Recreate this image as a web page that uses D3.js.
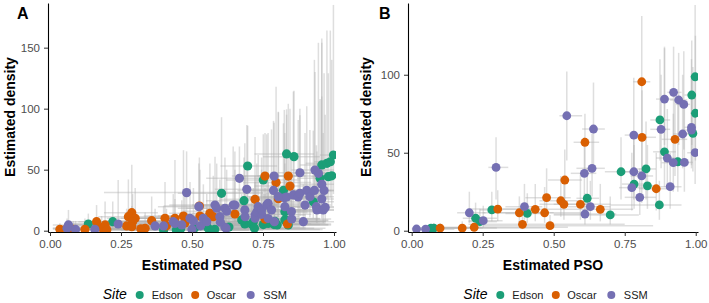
<!DOCTYPE html>
<html>
<head>
<meta charset="utf-8">
<script src="https://cdn.jsdelivr.net/npm/d3@7"></script>
<style>
  body { margin: 0; background: #fff; }
  svg { font-family: "Liberation Sans", Arial, sans-serif; }
</style>
</head>
<body>
<svg id="chart" width="709" height="303"></svg>
<script>
// each row: [pso, density, psoLow, psoHigh, densityLow, densityHigh]
const edsonA = [
  [0.135, 5.5, 0.05, 0.42, 1, 14], [0.221, 7.4, 0.10, 0.50, 2, 24], [0.400, 0.5, 0.20, 0.70, 0, 4],
  [0.445, 0.5, 0.25, 0.75, 0, 5], [0.510, 2.5, 0.30, 0.80, 0, 10], [0.557, 2.0, 0.30, 0.85, 0, 8],
  [0.550, 4.0, 0.35, 0.80, 0, 12], [0.604, 30.6, 0.45, 0.75, 12, 93], [0.683, 24.6, 0.55, 0.85, 10, 60],
  [0.696, 53.0, 0.60, 0.80, 25, 86], [0.686, 5.5, 0.50, 0.90, 1, 20], [0.710, 5.5, 0.50, 0.92, 1, 25],
  [0.675, 8.8, 0.45, 0.90, 2, 30], [0.716, 7.4, 0.50, 0.95, 2, 35], [0.720, 2.0, 0.50, 0.93, 0, 12],
  [0.751, 41.6, 0.62, 0.88, 18, 79], [0.751, 5.0, 0.55, 0.95, 1, 22], [0.768, 6.0, 0.55, 0.97, 1, 28],
  [0.792, 7.6, 0.60, 0.97, 2, 30], [0.789, 5.0, 0.60, 0.98, 1, 26], [0.800, 4.7, 0.60, 0.98, 1, 24],
  [0.827, 8.8, 0.65, 0.98, 2, 35], [0.827, 15.6, 0.68, 0.97, 6, 55], [0.833, 62.9, 0.72, 0.93, 30, 99.5],
  [0.859, 60.7, 0.75, 0.95, 28, 114.7], [0.822, 33.0, 0.68, 0.95, 14, 88], [0.833, 8.2, 0.65, 0.98, 2, 32],
  [0.839, 4.7, 0.65, 0.99, 1, 20], [0.927, 23.7, 0.82, 1.00, 10, 82], [0.951, 43.0, 0.87, 1.00, 18, 108],
  [0.957, 53.9, 0.88, 1.00, 25, 154], [0.975, 55.2, 0.90, 1.00, 26, 164], [0.998, 62.0, 0.95, 1.00, 30, 185],
  [0.987, 56.5, 0.93, 1.00, 27, 164], [0.980, 44.3, 0.92, 1.00, 20, 129], [0.992, 45.0, 0.93, 1.00, 20, 140],
  [0.630, 3.0, 0.40, 0.88, 0, 14], [0.460, 1.5, 0.15, 0.90, 0, 6], [0.580, 1.0, 0.25, 0.96, 0, 6]
];
const oscarA = [
  [0.035, 1.1, 0.01, 0.25, 0, 6], [0.060, 2.0, 0.01, 0.30, 0, 8], [0.082, 1.1, 0.02, 0.35, 0, 8],
  [0.123, 1.1, 0.03, 0.40, 0, 10], [0.164, 7.4, 0.06, 0.40, 2, 21], [0.182, 2.5, 0.05, 0.45, 0, 12],
  [0.194, 4.7, 0.08, 0.45, 1, 24], [0.270, 3.9, 0.10, 0.55, 1, 18], [0.288, 14.8, 0.19, 0.38, 5, 54],
  [0.276, 11.5, 0.17, 0.40, 4, 42], [0.300, 10.2, 0.20, 0.45, 3, 35], [0.291, 7.4, 0.15, 0.50, 2, 30],
  [0.288, 3.3, 0.12, 0.55, 1, 20], [0.335, 2.0, 0.12, 0.60, 0, 15], [0.358, 8.2, 0.20, 0.55, 2, 28],
  [0.405, 10.2, 0.25, 0.60, 3, 40], [0.410, 4.0, 0.20, 0.70, 0, 18], [0.440, 10.2, 0.30, 0.62, 3, 58],
  [0.470, 12.0, 0.33, 0.65, 4, 66], [0.475, 6.3, 0.30, 0.70, 1, 30], [0.528, 12.0, 0.38, 0.70, 4, 50],
  [0.526, 20.2, 0.40, 0.68, 8, 60], [0.563, 14.2, 0.42, 0.72, 5, 55], [0.575, 11.5, 0.42, 0.75, 4, 45],
  [0.651, 13.7, 0.50, 0.82, 5, 50], [0.722, 25.7, 0.60, 0.86, 10, 76.8], [0.757, 44.8, 0.64, 0.88, 20, 80],
  [0.757, 9.5, 0.55, 0.95, 3, 35], [0.796, 39.4, 0.68, 0.92, 17, 118], [0.804, 26.2, 0.68, 0.93, 11, 97.5],
  [0.839, 44.8, 0.73, 0.95, 20, 104], [0.845, 36.6, 0.72, 0.96, 15, 100], [0.836, 5.5, 0.62, 0.99, 1, 22],
  [0.200, 0.8, 0.03, 0.70, 0, 4], [0.320, 1.5, 0.05, 0.80, 0, 6]
];
const ssmA = [
  [0.065, 4.7, 0.01, 0.30, 1, 17], [0.060, 2.0, 0.01, 0.30, 0, 10], [0.090, 1.0, 0.02, 0.35, 0, 8],
  [0.158, 1.1, 0.04, 0.45, 0, 10], [0.240, 5.5, 0.08, 0.50, 1, 41.6], [0.370, 3.9, 0.15, 0.65, 1, 18],
  [0.400, 3.9, 0.18, 0.70, 1, 20], [0.434, 7.4, 0.22, 0.70, 2, 30], [0.464, 4.7, 0.22, 0.75, 1, 25],
  [0.440, 6.0, 0.20, 0.72, 1, 26], [0.481, 31.2, 0.19, 0.75, 12, 65], [0.493, 10.2, 0.30, 0.72, 3, 40],
  [0.505, 8.0, 0.30, 0.75, 2, 35], [0.530, 4.0, 0.30, 0.80, 0, 16], [0.524, 19.7, 0.38, 0.70, 7, 55],
  [0.540, 10.2, 0.35, 0.75, 3, 38], [0.552, 7.4, 0.35, 0.80, 2, 30], [0.581, 21.0, 0.42, 0.74, 8, 60.6],
  [0.587, 18.4, 0.45, 0.75, 7, 55], [0.598, 11.5, 0.42, 0.80, 4, 42], [0.600, 7.0, 0.40, 0.85, 2, 28],
  [0.616, 2.8, 0.38, 0.90, 0, 15], [0.616, 18.4, 0.48, 0.78, 7, 60], [0.622, 16.0, 0.47, 0.80, 6, 50],
  [0.645, 21.0, 0.50, 0.80, 8, 69], [0.651, 21.0, 0.52, 0.80, 8, 65], [0.667, 42.9, 0.55, 0.80, 18, 69],
  [0.686, 17.0, 0.55, 0.85, 6, 71.6], [0.693, 33.9, 0.58, 0.82, 14, 86.6], [0.687, 11.5, 0.52, 0.88, 4, 45],
  [0.722, 10.2, 0.55, 0.90, 3, 40], [0.722, 12.8, 0.56, 0.90, 4, 45], [0.728, 15.4, 0.58, 0.90, 5, 55],
  [0.733, 19.7, 0.60, 0.88, 7, 62], [0.745, 13.4, 0.58, 0.92, 5, 50], [0.745, 17.0, 0.60, 0.90, 6, 60],
  [0.763, 21.0, 0.62, 0.90, 8, 79], [0.768, 22.5, 0.63, 0.90, 9, 80], [0.768, 10.0, 0.60, 0.95, 3, 40],
  [0.780, 17.0, 0.63, 0.93, 6, 83], [0.790, 7.4, 0.60, 0.97, 2, 35], [0.789, 44.8, 0.68, 0.90, 20, 88.5],
  [0.787, 33.0, 0.66, 0.92, 14, 90], [0.804, 27.9, 0.68, 0.94, 11, 97], [0.825, 27.0, 0.70, 0.95, 11, 99],
  [0.827, 19.7, 0.68, 0.96, 7, 80], [0.833, 27.6, 0.70, 0.95, 11, 95], [0.851, 9.6, 0.68, 0.99, 3, 40],
  [0.850, 15.7, 0.70, 0.98, 5, 60], [0.857, 29.3, 0.74, 0.97, 12, 114], [0.874, 27.6, 0.75, 0.98, 11, 90.7],
  [0.880, 47.5, 0.78, 0.97, 22, 100], [0.880, 30.6, 0.76, 0.98, 12, 94.6], [0.892, 7.4, 0.72, 1.00, 2, 38],
  [0.898, 21.0, 0.78, 0.99, 8, 80], [0.904, 33.0, 0.80, 0.99, 14, 102], [0.915, 27.9, 0.80, 1.00, 11, 82.5],
  [0.931, 33.0, 0.83, 1.00, 14, 140], [0.933, 49.7, 0.85, 1.00, 22, 130], [0.938, 19.7, 0.80, 1.00, 7, 70],
  [0.940, 17.0, 0.80, 1.00, 6, 65], [0.945, 47.0, 0.86, 1.00, 21, 154], [0.957, 38.0, 0.88, 1.00, 17, 157.5],
  [0.957, 26.0, 0.86, 1.00, 10, 110], [0.962, 17.0, 0.85, 1.00, 6, 80], [0.965, 33.0, 0.88, 1.00, 14, 129],
  [0.969, 19.1, 0.87, 1.00, 7, 95], [0.500, 1.0, 0.10, 0.95, 0, 5], [0.620, 2.0, 0.30, 0.97, 0, 9]
];

const edsonB = [
  [0.068, 1.7, 0.03, 0.20, 0, 4], [0.078, 1.7, 0.03, 0.25, 0, 5], [0.225, 8.0, 0.18, 0.30, 3, 18],
  [0.240, 5.8, 0.20, 0.30, 2, 14], [0.282, 13.3, 0.24, 0.32, 6, 25], [0.407, 11.1, 0.33, 0.48, 5, 24],
  [0.618, 20.8, 0.58, 0.66, 10, 40], [0.699, 10.1, 0.50, 0.80, 4, 22], [0.737, 37.8, 0.68, 0.78, 20, 60],
  [0.783, 29.9, 0.74, 0.82, 14, 55], [0.825, 39.6, 0.79, 0.86, 20, 70], [0.830, 28.8, 0.79, 0.87, 14, 55],
  [0.872, 16.5, 0.70, 0.95, 7, 32], [0.874, 71.0, 0.84, 0.91, 45, 110], [0.890, 50.6, 0.85, 0.93, 28, 118],
  [0.937, 44.2, 0.90, 0.97, 25, 85], [0.986, 87.0, 0.96, 1.00, 55, 122], [0.998, 98.7, 0.98, 1.00, 60, 144.7],
  [0.990, 62.4, 0.96, 1.00, 38, 105], [0.999, 75.3, 0.98, 1.00, 45, 125]
];
const oscarB = [
  [0.100, 1.7, 0.05, 0.30, 0, 5], [0.178, 1.7, 0.08, 0.50, 0, 6], [0.220, 2.2, 0.10, 0.55, 0, 8],
  [0.303, 13.9, 0.20, 0.42, 6, 26], [0.379, 11.5, 0.25, 0.50, 5, 22], [0.390, 4.1, 0.20, 0.75, 1, 12],
  [0.435, 13.7, 0.32, 0.55, 6, 30], [0.468, 11.5, 0.30, 0.60, 5, 28], [0.475, 21.2, 0.40, 0.56, 10, 40],
  [0.487, 3.2, 0.25, 0.85, 1, 10], [0.525, 19.2, 0.45, 0.60, 9, 35], [0.536, 16.9, 0.45, 0.62, 7, 32],
  [0.539, 32.5, 0.48, 0.60, 18, 52], [0.594, 16.9, 0.50, 0.70, 7, 36], [0.610, 56.7, 0.57, 0.66, 35, 75],
  [0.664, 13.7, 0.55, 0.78, 6, 30], [0.810, 95.5, 0.78, 0.84, 60, 137.6], [0.811, 59.9, 0.77, 0.86, 38, 90],
  [0.861, 26.9, 0.80, 0.92, 13, 50], [0.927, 58.6, 0.88, 0.97, 35, 90]
];
const ssmB = [
  [0.017, 1.1, 0.00, 0.10, 0, 3], [0.049, 1.0, 0.01, 0.15, 0, 3], [0.203, 11.5, 0.16, 0.26, 5, 25],
  [0.252, 6.4, 0.20, 0.32, 2, 16], [0.297, 40.6, 0.27, 0.34, 20, 60], [0.397, 15.4, 0.33, 0.46, 7, 30],
  [0.546, 73.7, 0.52, 0.60, 45, 102], [0.610, 10.7, 0.50, 0.72, 4, 24], [0.629, 15.4, 0.55, 0.70, 7, 32],
  [0.608, 36.8, 0.56, 0.65, 20, 60], [0.635, 40.0, 0.58, 0.68, 22, 62], [0.640, 65.2, 0.60, 0.68, 40, 95],
  [0.782, 37.8, 0.74, 0.82, 20, 62], [0.775, 27.6, 0.73, 0.82, 13, 50], [0.810, 35.1, 0.77, 0.85, 18, 58],
  [0.803, 21.4, 0.75, 0.86, 10, 40], [0.782, 61.3, 0.75, 0.82, 40, 98], [0.890, 84.4, 0.86, 0.92, 55, 117],
  [0.922, 88.7, 0.90, 0.95, 58, 118], [0.940, 83.8, 0.91, 0.97, 55, 114], [0.958, 81.0, 0.93, 0.98, 52, 115],
  [0.878, 65.0, 0.84, 0.91, 40, 100], [0.954, 62.0, 0.92, 0.98, 40, 100], [0.985, 66.3, 0.96, 1.00, 42, 110],
  [0.985, 64.5, 0.96, 1.00, 40, 100], [0.910, 28.2, 0.87, 0.95, 14, 50], [0.900, 46.6, 0.86, 0.94, 28, 78],
  [0.921, 43.6, 0.88, 0.96, 25, 75], [0.960, 43.8, 0.92, 0.99, 25, 80], [0.998, 50.0, 0.97, 1.00, 30, 88]
];

const sites = ["Edson", "Oscar", "SSM"];
const siteColors = ["#1B9E77", "#D95F02", "#7570B3"];
const xTicks = [0, 0.25, 0.5, 0.75, 1];
const xTickLabels = ["0.00", "0.25", "0.50", "0.75", "1.00"];
const yTicksA = [0, 50, 100, 150];
const yTicksB = [0, 50, 100];

const svg = d3.select("#chart");
const color = d3.scaleOrdinal().domain(sites).range(siteColors);

function toRows(groups) {
  const rows = [];
  groups.forEach((g, i) => g.forEach(r => rows.push({
    site: sites[i], x: r[0], y: r[1], x0: r[2], x1: r[3], y0: r[4], y1: r[5]
  })));
  return rows;
}

function panel(opt) {
  const x = d3.scaleLinear().domain(opt.xDomain).range([opt.left, opt.right]);
  const y = d3.scaleLinear().domain(opt.yDomain).range([232, 3]);
  const rows = toRows(opt.groups);
  const g = svg.append("g");

  const clipId = "clip" + opt.label;
  g.append("clipPath").attr("id", clipId).append("rect")
    .attr("x", opt.left).attr("y", 3).attr("width", opt.right - opt.left).attr("height", 229);
  const plot = g.append("g").attr("clip-path", `url(#${clipId})`);

  // error bars first, points on top
  plot.selectAll("line.v").data(rows).join("line").attr("class", "v")
    .attr("x1", d => x(d.x)).attr("x2", d => x(d.x))
    .attr("y1", d => y(d.y0)).attr("y2", d => y(d.y1))
    .attr("stroke", "#b0b0b0").attr("stroke-opacity", 0.42).attr("stroke-width", 1.5);
  plot.selectAll("line.h").data(rows).join("line").attr("class", "h")
    .attr("x1", d => x(d.x0)).attr("x2", d => x(d.x1))
    .attr("y1", d => y(d.y)).attr("y2", d => y(d.y))
    .attr("stroke", "#b0b0b0").attr("stroke-opacity", 0.42).attr("stroke-width", 1.5);

  plot.selectAll("circle").data(rows).join("circle")
    .attr("cx", d => x(d.x)).attr("cy", d => y(d.y))
    .attr("r", opt.r).attr("fill", d => color(d.site));

  const xAxis = g.append("g").attr("transform", "translate(0,232)")
    .call(d3.axisBottom(x).tickValues(xTicks).tickFormat((d, i) => xTickLabels[i])
      .tickSize(4).tickSizeOuter(0).tickPadding(4));
  const yAxis = g.append("g").attr("transform", `translate(${opt.left},0)`)
    .call(d3.axisLeft(y).tickValues(opt.yTicks).tickSize(4).tickSizeOuter(0).tickPadding(4));
  [xAxis, yAxis].forEach(a => {
    a.select(".domain").attr("stroke", "#000").attr("stroke-width", 1.1);
    a.selectAll(".tick line").attr("stroke", "#333").attr("stroke-width", 1);
    a.selectAll(".tick text").attr("fill", "#4d4d4d").attr("font-size", 11.5)
      .attr("font-family", "Liberation Sans, Arial, sans-serif");
  });

  const mid = (opt.left + opt.right) / 2;
  g.append("text").attr("x", mid).attr("y", 270).attr("text-anchor", "middle")
    .attr("font-size", 14).attr("font-weight", "bold").attr("fill", "#000").text("Estimated PSO");
  g.append("text").attr("transform", `translate(${opt.titleX},117) rotate(-90)`)
    .attr("text-anchor", "middle").attr("font-size", 14).attr("font-weight", "bold")
    .attr("fill", "#000").text("Estimated density");
  g.append("text").attr("x", opt.labelX).attr("y", 19).attr("font-size", 16)
    .attr("font-weight", "bold").attr("fill", "#000").text(opt.label);

  // legend
  const lx = opt.legendX;
  g.append("text").attr("x", lx).attr("y", 299).attr("font-size", 14)
    .attr("font-style", "italic").attr("fill", "#000").text("Site");
  const offs = [[37, 49], [92.5, 104], [148, 160.5]];
  sites.forEach((s, i) => {
    g.append("circle").attr("cx", lx + offs[i][0]).attr("cy", 295).attr("r", 4).attr("fill", color(s));
    g.append("text").attr("x", lx + offs[i][1]).attr("y", 299).attr("font-size", 11)
      .attr("fill", "#1a1a1a").text(s);
  });
}

panel({
  label: "A", groups: [edsonA, oscarA, ssmA], left: 48, right: 336,
  xDomain: [-0.007, 1.007], yDomain: [-1.07, 186.6], yTicks: yTicksA,
  r: 4.6, titleX: 15, labelX: 17, legendX: 102.7
});
panel({
  label: "B", groups: [edsonB, oscarB, ssmB], left: 408, right: 698,
  xDomain: [-0.013, 1.008], yDomain: [-0.83, 146], yTicks: yTicksB,
  r: 4.4, titleX: 371, labelX: 379, legendX: 463.3
});
</script>
</body>
</html>
